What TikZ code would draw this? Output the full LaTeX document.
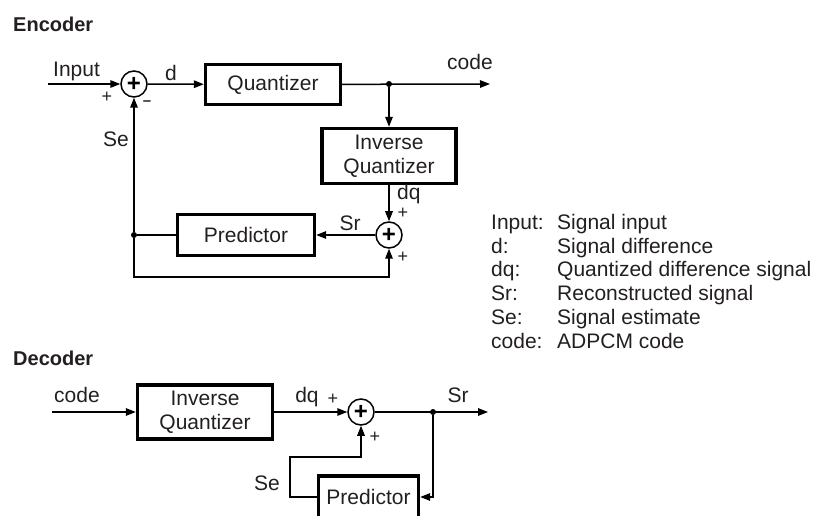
\documentclass[tikz,border=0pt]{standalone}
\usepackage{fontspec}
\setmainfont{Liberation Sans}
\usetikzlibrary{arrows.meta}
\definecolor{ink}{RGB}{35,31,32}
\begin{document}
\begin{tikzpicture}[x=1pt,y=-1pt,
  txt/.style={font=\fontsize{21}{24}\selectfont, text=ink, inner sep=0pt},
  head/.style={font=\fontsize{20}{24}\selectfont\bfseries, text=ink, inner sep=0pt},
  sgn/.style={font=\fontsize{18}{18}\selectfont, text=ink, inner sep=0pt},
  blk/.style={draw, line width=3.4pt, inner sep=0pt, align=center, font=\fontsize{21}{24}\selectfont, text=ink},
  sumc/.style={circle, draw, line width=1.5pt, minimum size=26pt, inner sep=0pt},
  plus/.style={font=\fontsize{24}{24}\selectfont\bfseries, text=black, inner sep=0pt},
  ln/.style={line width=1.5pt},
  arr/.style={line width=1.5pt, -{Triangle[length=10pt,width=7.5pt]}},
  jdot/.style={circle, fill, inner sep=0pt, minimum size=6pt},
]
\useasboundingbox (0,0) rectangle (815,516);
\clip (0,0) rectangle (815,516);

% ---------------- Encoder ----------------
\node[head, anchor=base west] (enc) at (13,32) {Encoder};

\coordinate (ein) at (48,84);
\node[sumc] (c1) at (134,84) {};
\node[plus] (c1p) at (134,84) {+};
\node[blk, minimum width=135pt, minimum height=40pt] (q) at (273,84.5) {Quantizer};
\coordinate (eout) at (490,84);
\node[jdot] (j1) at (389,84) {};
\node[blk, minimum width=134pt, minimum height=55pt] (iq1) at (389,156) {Inverse\\Quantizer};
\node[sumc] (c2) at (389,235) {};
\node[plus] (c2p) at (389,235) {+};
\node[blk, minimum width=137pt, minimum height=41pt] (p1) at (246,235) {Predictor};
\node[jdot] (j2) at (134,235) {};
\coordinate (b1) at (134,277);

\draw[arr] (ein) -- (c1);
\draw[arr] (c1) -- (q);
\draw[arr] (q) -- (eout);
\draw[arr] (j1) -- (iq1);
\draw[arr] (iq1) -- (c2);
\draw[arr] (c2) -- (p1);
\draw[ln] (p1) -- (j2);
\draw[arr] (j2) -- (c1);
\draw[arr] (j2) -- (b1) -| (c2);

\node[txt, anchor=base west] (linput) at (53,77) {Input};
\node[txt, anchor=base] (ld) at (171,81) {d};
\node[txt, anchor=base] (lcode) at (470,70) {code};
\node[txt, anchor=base] (lse) at (116,147) {Se};
\node[txt, anchor=base west] (ldq) at (397,200) {dq};
\node[txt, anchor=base] (lsr) at (350,231) {Sr};
\node[sgn] (s1) at (107,97) {+};
\node[sgn, font=\fontsize{15}{16}\selectfont\bfseries] (s2) at (147,103) {–};
\node[sgn] (s3) at (403,213) {+};
\node[sgn] (s4) at (403,257) {+};

% ---------------- Legend ----------------
\node[txt, anchor=base west] (k1) at (491,229.5) {Input:};
\node[txt, anchor=base west] (v1) at (557,229.5) {Signal input};
\node[txt, anchor=base west] (k2) at (491,253.2) {d:};
\node[txt, anchor=base west] (v2) at (557,253.2) {Signal difference};
\node[txt, anchor=base west] (k3) at (491,276.9) {dq:};
\node[txt, anchor=base west] (v3) at (557,276.9) {Quantized difference signal};
\node[txt, anchor=base west] (k4) at (491,300.6) {Sr:};
\node[txt, anchor=base west] (v4) at (557,300.6) {Reconstructed signal};
\node[txt, anchor=base west] (k5) at (491,324.3) {Se:};
\node[txt, anchor=base west] (v5) at (557,324.3) {Signal estimate};
\node[txt, anchor=base west] (k6) at (491,348) {code:};
\node[txt, anchor=base west] (v6) at (557,348) {ADPCM code};

% ---------------- Decoder ----------------
\node[head, anchor=base west] (dec) at (13,365) {Decoder};

\coordinate (din) at (52,412);
\node[blk, minimum width=135pt, minimum height=54pt] (iq2) at (205,412) {Inverse\\Quantizer};
\node[sumc] (c3) at (361,412) {};
\node[plus] (c3p) at (361,412) {+};
\coordinate (dout) at (488,412);
\node[jdot] (j3) at (433,412) {};
\node[blk, minimum width=100pt, minimum height=42pt] (p2) at (368.5,497) {Predictor};
\coordinate (se1) at (290,457);

\draw[arr] (din) -- (iq2);
\draw[arr] (iq2) -- (c3);
\draw[arr] (c3) -- (dout);
\draw[arr] (j3) |- (p2);
\draw[arr] (p2.west) -| (se1) -| (c3);

\node[txt, anchor=base] (dcode) at (77,402) {code};
\node[txt, anchor=base] (ddq) at (307,402) {dq};
\node[txt, anchor=base] (dsr) at (458,402) {Sr};
\node[txt, anchor=base] (dse) at (267,490) {Se};
\node[sgn] (s5) at (333,399) {+};
\node[sgn] (s6) at (375,437) {+};
\end{tikzpicture}
\end{document}
